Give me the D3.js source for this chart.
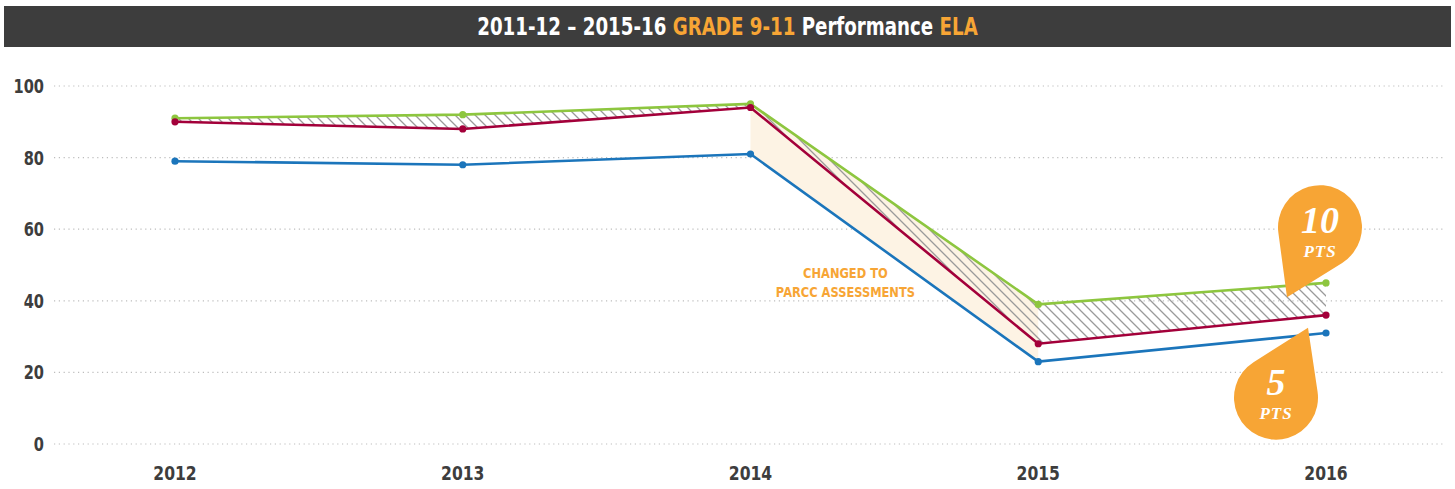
<!DOCTYPE html>
<html lang="en">
<head>
<meta charset="UTF-8">
<title>grade 9-11 ela</title>
<script src="https://cdn.jsdelivr.net/npm/d3@7/dist/d3.min.js"></script>
<style>
	body { margin: 0; background: #fff; }
	text { font-family: "DejaVu Sans", sans-serif; font-weight: bold; }
</style>
</head>
<body>
<script>
// data
const years = [2012, 2013, 2014, 2015, 2016]
const state = [91, 92, 95, 39, 45]     // green
const county = [90, 88, 94, 28, 36]    // red
const district = [79, 78, 81, 23, 31]  // blue
const yTicks = [0, 20, 40, 60, 80, 100]
const switchYears = [2014, 2015]
const callouts = [
	{ big: '10', small: 'PTS', at: 2016, tipVal: 41 },
	{ big: '5', small: 'PTS', at: 2016, tipVal: 32.5 }
]

const W = 1455, H = 489
const orange = '#f7a535', dark = '#3d3d3d'

let svg = d3.select('body').append('svg')
	.attr('width', W)
	.attr('height', H)

let x = d3.scaleLinear().domain([2012, 2016]).range([175, 1326])
let y = d3.scaleLinear().domain([0, 100]).range([444, 86])

// title bar
svg.append('rect')
	.attr('x', 4).attr('y', 6)
	.attr('width', W - 8).attr('height', 41)
	.attr('fill', dark)

// no condensed face installed, so squeeze horizontally
let title = svg.append('text')
	.attr('transform', `translate(${W / 2},34.5) scale(0.76,1)`)
	.attr('text-anchor', 'middle')
	.attr('font-size', 24)
	.attr('fill', '#fff')
title.append('tspan').text('2011-12 – 2015-16 ')
title.append('tspan').attr('fill', orange).text('GRADE 9-11')
title.append('tspan').text(' Performance ')
title.append('tspan').attr('fill', orange).text('ELA')

// grid + y labels
let grid = svg.append('g')
grid.selectAll('line')
	.data(yTicks)
	.enter().append('line')
	.attr('x1', 54).attr('x2', 1446)
	.attr('y1', d => y(d)).attr('y2', d => y(d))
	.attr('stroke', '#bdbdbd')
	.attr('stroke-width', 1.2)
	.attr('stroke-dasharray', '1.2,3.6')

grid.selectAll('text')
	.data(yTicks)
	.enter().append('text')
	.attr('transform', d => `translate(44,${y(d) + 7}) scale(0.73,1)`)
	.attr('text-anchor', 'end')
	.attr('font-size', 20)
	.attr('fill', dark)
	.text(d => d)

svg.append('g').selectAll('text')
	.data(years)
	.enter().append('text')
	.attr('transform', d => `translate(${x(d)},480) scale(0.78,1)`)
	.attr('text-anchor', 'middle')
	.attr('font-size', 20)
	.attr('fill', dark)
	.text(d => d)

// hatch pattern
let pat = svg.append('defs').append('pattern')
	.attr('id', 'hatch')
	.attr('patternUnits', 'userSpaceOnUse')
	.attr('width', 10).attr('height', 10)
pat.append('path')
	.attr('d', 'M0,0L10,10M-5,5L5,15M5,-5L15,5')
	.attr('stroke', '#9a9a9a')
	.attr('stroke-width', 1.3)

let rows = years.map((yr, i) => ({ yr, g: state[i], r: county[i], b: district[i] }))

// beige band where the assessment changed
svg.append('path')
	.datum(rows.filter(d => d.yr >= switchYears[0] && d.yr <= switchYears[1]))
	.attr('d', d3.area().x(d => x(d.yr)).y0(d => y(d.b)).y1(d => y(d.g)))
	.attr('fill', '#fdf3e4')

// hatched gap between green and red
svg.append('path')
	.datum(rows)
	.attr('d', d3.area().x(d => x(d.yr)).y0(d => y(d.r)).y1(d => y(d.g)))
	.attr('fill', 'url(#hatch)')

// lines
let series = [
	{ vals: district, color: '#1b75bb' },
	{ vals: state, color: '#8dc63f' },
	{ vals: county, color: '#a3003a' }
]
let line = d3.line().x((d, i) => x(years[i])).y(d => y(d))

series.forEach(s => {
	svg.append('path')
		.attr('d', line(s.vals))
		.attr('fill', 'none')
		.attr('stroke', s.color)
		.attr('stroke-width', 2.6)
	svg.append('g').selectAll('circle')
		.data(s.vals)
		.enter().append('circle')
		.attr('cx', (d, i) => x(years[i]))
		.attr('cy', d => y(d))
		.attr('r', 3.6)
		.attr('fill', s.color)
})

// annotation
let noteX = (x(switchYears[0]) + x(switchYears[1])) / 2 - 49
svg.append('text')
	.attr('transform', `translate(${noteX},${y(46.5)}) scale(0.79,1)`)
	.attr('text-anchor', 'middle')
	.attr('font-size', 14.5)
	.attr('fill', orange)
	.text('CHANGED TO')
svg.append('text')
	.attr('transform', `translate(${noteX},${y(41)}) scale(0.79,1)`)
	.attr('text-anchor', 'middle')
	.attr('font-size', 14.5)
	.attr('fill', orange)
	.text('PARCC ASSESSMENTS')

// teardrop callouts
function drop(cx, cy, r, tx, ty) {
	let d = Math.hypot(tx - cx, ty - cy)
	let phi = Math.atan2(ty - cy, tx - cx)
	let th = Math.acos(r / d)
	let p1 = [cx + r * Math.cos(phi + th), cy + r * Math.sin(phi + th)]
	let p2 = [cx + r * Math.cos(phi - th), cy + r * Math.sin(phi - th)]
	return `M${tx},${ty}L${p1[0]},${p1[1]}A${r},${r} 0 1 1 ${p2[0]},${p2[1]}Z`
}

let offs = [
	{ dx: -39, c: [33, -70], big: 6, small: 30 },
	{ dx: -18, c: [-32, 70], big: -3, small: 21 }
]
callouts.forEach((c, i) => {
	let o = offs[i]
	let tx = x(c.at) + o.dx
	let ty = y(c.tipVal)
	let cx = tx + o.c[0], cy = ty + o.c[1]
	let g = svg.append('g')
	g.append('path')
		.attr('d', drop(cx, cy, 42, tx, ty))
		.attr('fill', orange)
	g.append('text')
		.attr('x', cx).attr('y', cy + o.big)
		.attr('text-anchor', 'middle')
		.attr('font-style', 'italic')
		.attr('font-size', 38)
		.attr('fill', '#fff')
		.style('font-family', '"Liberation Serif", serif')
		.text(c.big)
	g.append('text')
		.attr('x', cx).attr('y', cy + o.small)
		.attr('text-anchor', 'middle')
		.attr('font-style', 'italic')
		.attr('font-size', 17)
		.attr('letter-spacing', 1)
		.attr('fill', '#fff')
		.style('font-family', '"Liberation Serif", serif')
		.text(c.small)
})
</script>
</body>
</html>
